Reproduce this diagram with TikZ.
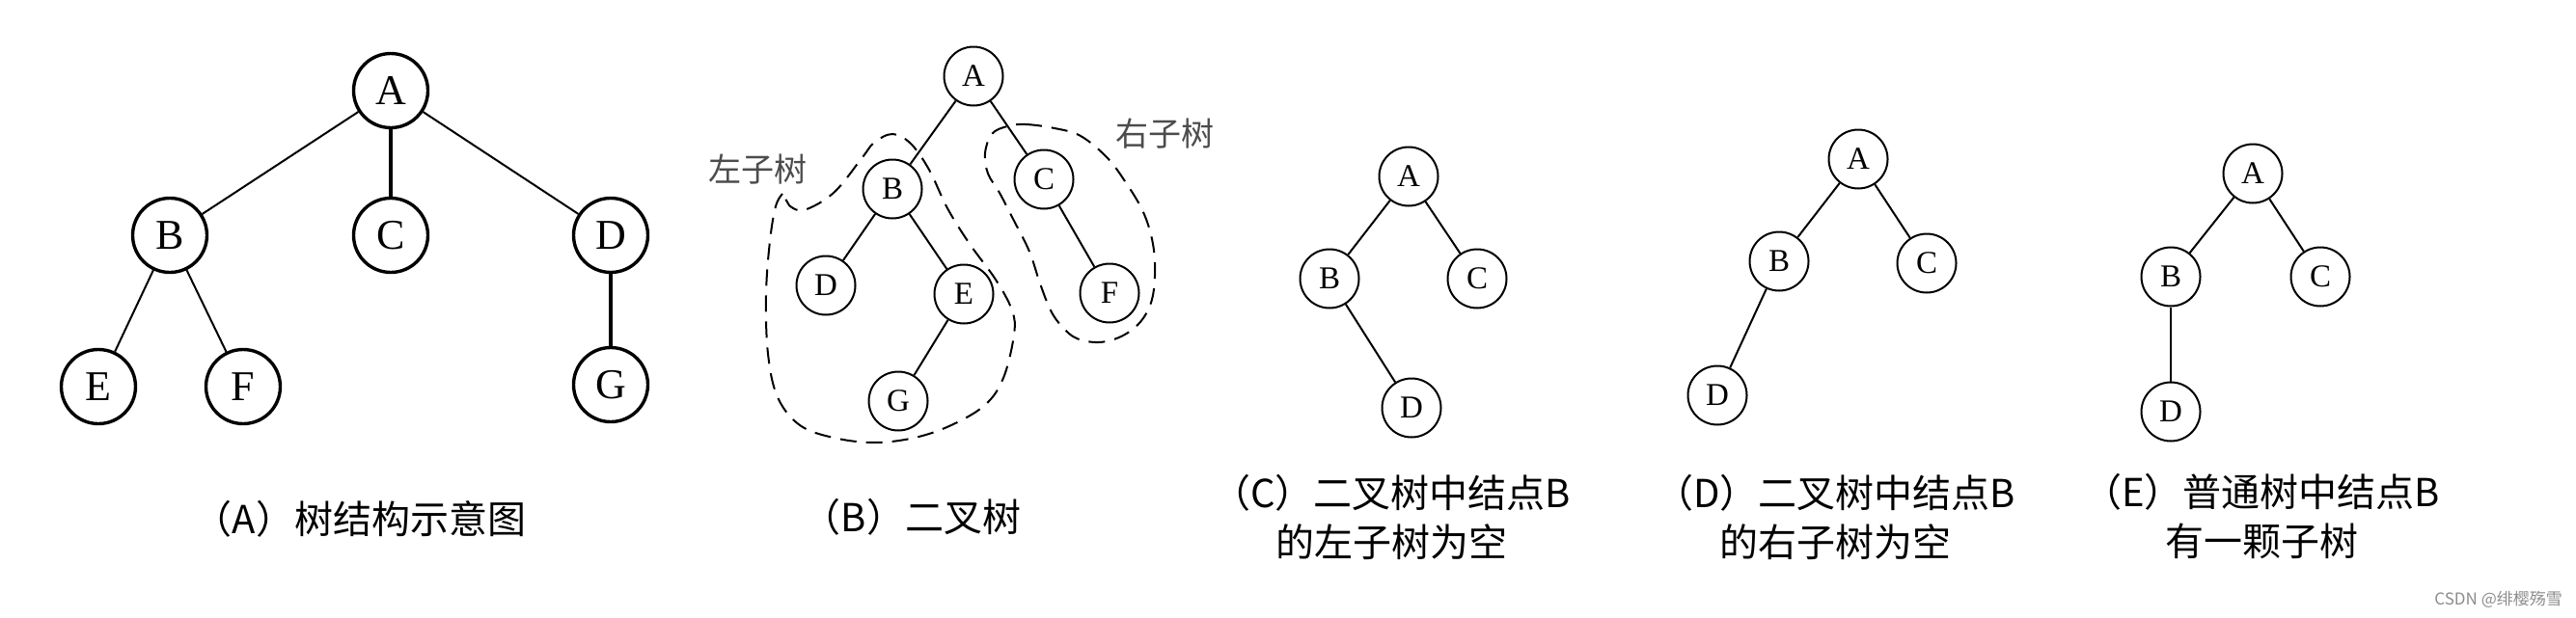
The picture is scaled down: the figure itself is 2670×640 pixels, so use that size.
\documentclass[tikz,border=0pt]{standalone}
\usepackage{fontspec}
\setmainfont{Liberation Serif}
\newfontfamily\cjk{Noto Sans CJK SC}
\begin{document}
\begin{tikzpicture}[x=1pt,y=-1pt,
  bnode/.style={circle,draw,line width=3.4pt,minimum size=77pt,inner sep=0pt,font=\fontsize{44}{44}\selectfont},
  snode/.style={circle,draw,line width=2pt,minimum size=61pt,inner sep=0pt,font=\fontsize{33}{33}\selectfont},
  ethin/.style={line width=2pt},
  ethick/.style={line width=3.4pt},
  capt/.style={font=\cjk\fontsize{40}{51}\selectfont,align=center,inner sep=0pt},
  sublbl/.style={font=\cjk\fontsize{34}{34}\selectfont,text=black!70,inner sep=0pt},
  dloop/.style={dash pattern=on 17pt off 10pt,line width=2pt,line join=round}
]
\useasboundingbox (0,0) rectangle (2670,640);

% ---------- Panel A ----------
\node[bnode] (aA) at (405,94) {A};
\node[bnode] (aB) at (176,244) {B};
\node[bnode] (aC) at (405,244) {C};
\node[bnode] (aD) at (633,244) {D};
\node[bnode] (aE) at (102,401) {E};
\node[bnode] (aF) at (252,401) {F};
\node[bnode] (aG) at (633,399) {G};
\draw[ethin] (aA) -- (aB);
\draw[ethick] (aA) -- (aC);
\draw[ethin] (aA) -- (aD);
\draw[ethin] (aB) -- (aE);
\draw[ethin] (aB) -- (aF);
\draw[ethick] (aD) -- (aG);
\node[capt] (capA) at (373,538) {（A）树结构示意图};

% ---------- Panel B ----------
\node[snode] (bA) at (1009,79) {A};
\node[snode] (bB) at (925,196) {B};
\node[snode] (bC) at (1082,186) {C};
\node[snode] (bD) at (856,296) {D};
\node[snode] (bE) at (999,305) {E};
\node[snode] (bF) at (1150,304) {F};
\node[snode] (bG) at (931,416) {G};
\draw[ethin] (bA) -- (bB);
\draw[ethin] (bA) -- (bC);
\draw[ethin] (bB) -- (bD);
\draw[ethin] (bB) -- (bE);
\draw[ethin] (bE) -- (bG);
\draw[ethin] (bC) -- (bF);
\draw[dloop] plot[smooth,tension=0.6] coordinates {
  (811,201) (804,214) (798,250) (794,306) (796,367) (806,412) (829,441)
  (864,454) (906,459) (948,454) (986,441) (1021,420) (1040,392) (1051,347)
  (1049,322) (1032,290) (1005,253) (982,216) (963,176) (944,149) (925,139)
  (906,148) (894,163) (864,200) (833,218) (818,213)} -- (811,201);
\draw[dloop] plot[smooth cycle,tension=0.6] coordinates {
  (1044,131) (1063,129) (1093,133) (1120,141) (1147,163) (1166,188)
  (1185,220) (1195,253) (1197,286) (1193,314) (1181,335) (1162,349)
  (1139,355) (1116,351) (1101,339) (1089,322) (1078,294) (1067,261)
  (1051,229) (1036,200) (1024,180) (1021,159) (1028,139)};
\node[sublbl] (lsub) at (785,176) {左子树};
\node[sublbl] (rsub) at (1207,139) {右子树};
\node[capt] (capB) at (945,536) {（B）二叉树};

% ---------- Panel C ----------
\node[snode] (cA) at (1460,183) {A};
\node[snode] (cB) at (1378,289) {B};
\node[snode] (cC) at (1531,289) {C};
\node[snode] (cD) at (1463,423) {D};
\draw[ethin] (cA) -- (cB);
\draw[ethin] (cA) -- (cC);
\draw[ethin] (cB) -- (cD);
\node[capt] (capC) at (1442,536) {（C）二叉树中结点B\\的左子树为空};

% ---------- Panel D ----------
\node[snode] (dA) at (1926,165) {A};
\node[snode] (dB) at (1844,271) {B};
\node[snode] (dC) at (1997,273) {C};
\node[snode] (dD) at (1780,410) {D};
\draw[ethin] (dA) -- (dB);
\draw[ethin] (dA) -- (dC);
\draw[ethin] (dB) -- (dD);
\node[capt] (capD) at (1902,536) {（D）二叉树中结点B\\的右子树为空};

% ---------- Panel E ----------
\node[snode] (eA) at (2335,180) {A};
\node[snode] (eB) at (2250,287) {B};
\node[snode] (eC) at (2405,287) {C};
\node[snode] (eD) at (2250,427) {D};
\draw[ethin] (eA) -- (eB);
\draw[ethin] (eA) -- (eC);
\draw[ethin] (eB) -- (eD);
\node[capt] (capE) at (2344,536) {（E）普通树中结点B\\有一颗子树};

% watermark
\node[font=\cjk\fontsize{17}{17}\selectfont,text=black!45,anchor=east,inner sep=0pt] (wm) at (2656,622) {CSDN @绯樱殇雪};
\end{tikzpicture}
\end{document}
